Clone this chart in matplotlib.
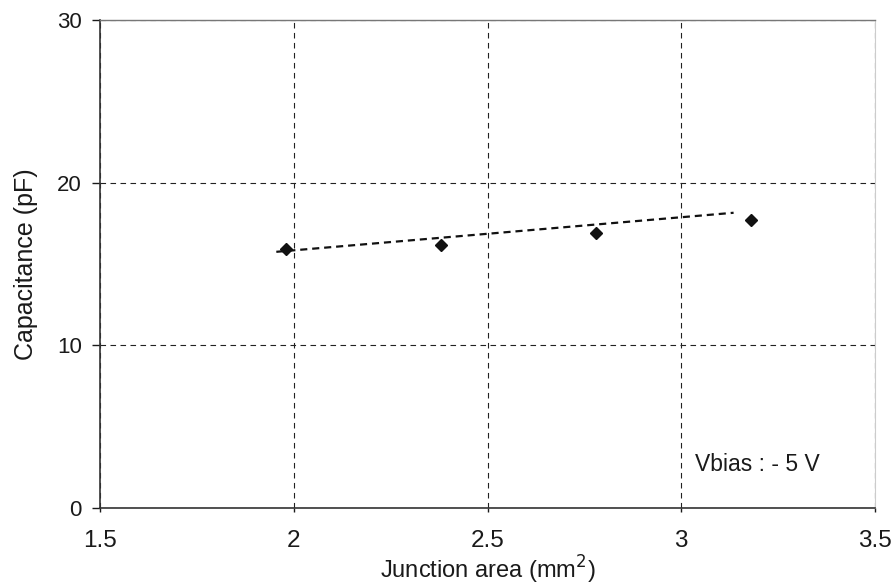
import matplotlib
matplotlib.use("Agg")
import matplotlib.pyplot as plt

# Measured capacitance vs junction area at Vbias = -5 V
area_mm2 = [1.98, 2.38, 2.78, 3.18]
capacitance_pf = [15.95, 16.15, 16.9, 17.68]

# Linear trend line endpoints
trend_x = [1.955, 3.135]
trend_y = [15.75, 18.15]

x_ticks = [1.5, 2, 2.5, 3, 3.5]
x_tick_labels = ["1.5", "2", "2.5", "3", "3.5"]
y_ticks = [0, 10, 20, 30]

plt.rcParams['font.family'] = ['Liberation Sans', 'DejaVu Sans']

fig = plt.figure(figsize=(8.96, 5.88), dpi=100)
ax = fig.add_axes([0.1116, 0.136, 0.865, 0.830])

ax.set_xlim(1.5, 3.5)
ax.set_ylim(0, 30)

ax.set_xticks(x_ticks)
ax.set_xticklabels(x_tick_labels)
ax.set_yticks(y_ticks)

ax.grid(True, color='#222222', linestyle=(0, (5, 4)), linewidth=0.8)
ax.set_axisbelow(True)

ax.plot(trend_x, trend_y, color='#111111', linestyle=(0, (3.2, 2.2)), linewidth=1.6, zorder=3)
ax.plot(area_mm2, capacitance_pf, linestyle='none', marker='D', markersize=6.5,
        color='#111111', zorder=4)

ax.text(3.035, 2.65, "Vbias : - 5 V", fontsize=16.5, color='#1a1a1a', va='center', ha='left')

ax.set_xlabel("Junction area (mm$^2$)", fontsize=17, labelpad=1, color='#1a1a1a')
ax.set_ylabel("Capacitance (pF)", fontsize=18, labelpad=14, color='#1a1a1a')

ax.tick_params(axis='y', direction='out', length=6, width=1, labelsize=16, pad=7, colors='#1a1a1a')
ax.tick_params(axis='x', direction='out', length=3, width=1, labelsize=17.5, pad=13, colors='#1a1a1a')

for side in ['left', 'bottom']:
    ax.spines[side].set_color('#333333')
    ax.spines[side].set_linewidth(1.2)
ax.spines['top'].set_color('#777777')
ax.spines['top'].set_linewidth(1.0)
ax.spines['right'].set_color('#cccccc')
ax.spines['right'].set_linewidth(0.8)

fig.savefig("out.png", dpi=100)
